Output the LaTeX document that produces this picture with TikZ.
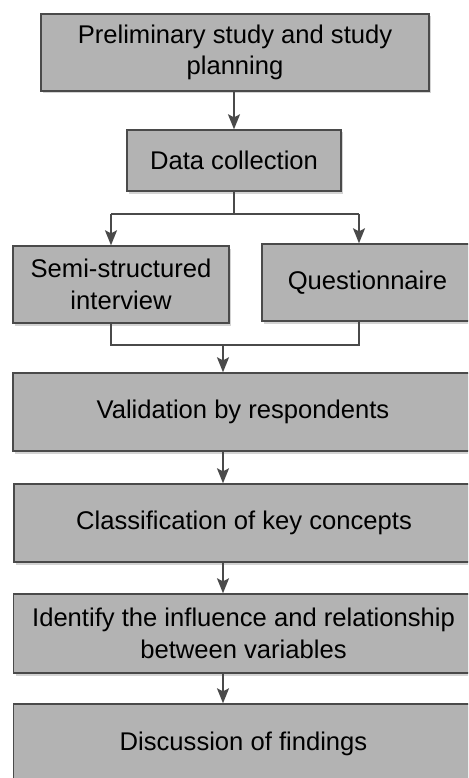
\documentclass[tikz,border=0pt]{standalone}
\usepackage{fontspec}
\setmainfont{Liberation Sans}
\usetikzlibrary{shadows,arrows.meta}
\definecolor{boxgray}{HTML}{B3B3B3}
\definecolor{edgegray}{HTML}{4A4A4A}
\begin{document}
\begin{tikzpicture}[
  x=1pt, y=-1pt,
  every node/.style={font=\fontsize{25.6}{31.5}\selectfont},
  stage/.style={rectangle, draw=edgegray, line width=1.4pt, fill=boxgray,
    align=center, inner sep=0pt,
    drop shadow={shadow xshift=2pt, shadow yshift=-2.5pt, opacity=0.35}},
  link/.style={draw=edgegray, line width=1.5pt},
  arr/.style={link, -{Stealth[length=15pt,width=12pt,inset=3pt]}}
]
\clip (0,0) rectangle (468,778);
% stages
\node[stage, minimum width=388pt, minimum height=77pt] (prelim) at (235,52.5) {Preliminary study and study\\planning};
\node[stage, minimum width=214pt, minimum height=61pt] (collect) at (234,160.5) {Data collection};
\node[stage, minimum width=216pt, minimum height=77pt] (interview) at (121,284.5) {Semi-structured\\interview};
\node[stage, minimum width=211pt, minimum height=77pt] (quest) at (367.5,282.5) {Questionnaire};
\node[stage, minimum width=460pt, minimum height=78pt] (valid) at (243,412) {Validation by respondents};
\node[stage, minimum width=460pt, minimum height=78pt] (classify) at (244,523) {Classification of key concepts};
\node[stage, minimum width=460pt, minimum height=79pt] (relate) at (243.5,633.5) {Identify the influence and relationship\\between variables};
\node[stage, minimum width=460pt, minimum height=80pt] (discuss) at (243.5,744) {Discussion of findings};
% branch points
\coordinate (split) at (234,214);
\coordinate (splitL) at (111,214);
\coordinate (splitR) at (359,214);
\coordinate (joinL) at (111,345);
\coordinate (joinR) at (359,345);
\coordinate (join) at (223,345);
% connectors
\draw[arr] (prelim.south -| collect) -- (collect.north);
\draw[link] (collect.south) -- (split);
\draw[link] (splitL) -- (splitR);
\draw[arr] (splitL) -- (splitL |- interview.north);
\draw[arr] (splitR) -- (splitR |- quest.north);
\draw[link] (interview.south -| joinL) -- (joinL) -- (joinR) -- (quest.south -| joinR);
\draw[arr] (join) -- (join |- valid.north);
\draw[arr] (valid.south -| join) -- (classify.north -| join);
\draw[arr] (classify.south -| join) -- (relate.north -| join);
\draw[arr] (relate.south -| join) -- (discuss.north -| join);
\end{tikzpicture}
\end{document}
